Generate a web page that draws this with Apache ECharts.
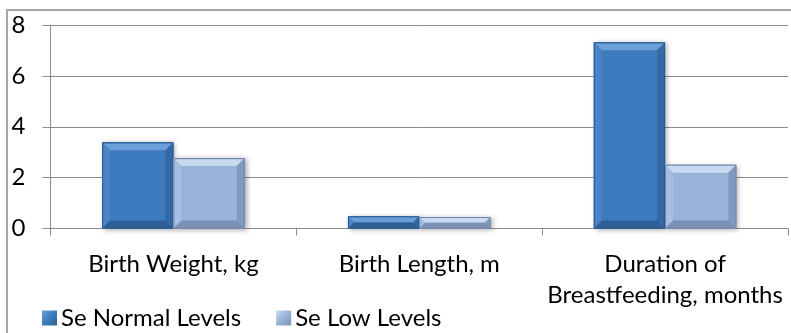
<!DOCTYPE html>
<html>
<head>
<meta charset="utf-8">
<script src="https://cdn.jsdelivr.net/npm/echarts@6/dist/echarts.min.js"></script>
<style>
  html, body { margin: 0; padding: 0; background: #ffffff; }
  #chart { width: 791px; height: 333px; }
</style>
</head>
<body>
<div id="chart"></div>
<script>
// Selenium status groups compared across three infant outcomes
const categories = ['Birth Weight, kg', 'Birth Length, m', 'Duration of\nBreastfeeding, months'];
const seNormal = [3.39, 0.48, 7.32];
const seLow = [2.77, 0.45, 2.51];
const yTicks = [0, 2, 4, 6, 8];
const seriesNames = ['Se Normal Levels', 'Se Low Levels'];

const FONT = 'Lato, "Open Sans", "Liberation Sans", sans-serif';
const FONT_SIZE = 24;

// Bevel shades for each group: face, top, left, right, bottom, outline
const palettes = [
  { face: '#3E7BBE', top: '#6A9FD8', left: '#4884C6', right: '#3469A6', bottom: '#2F5F96', edge: '#2C5A8C' },
  { face: '#97B3D8', top: '#C9DAF0', left: '#A6BFE0', right: '#8199BE', bottom: '#7A92B6', edge: '#7288AB' }
];

function bevelBar(pal, slot) {
  return function (params, api) {
    const idx = api.value(0);
    const val = api.value(1);
    const band = api.size([1, 0])[0];
    const w = band * 0.29;
    const base = api.coord([idx, 0]);
    const top = api.coord([idx, val]);
    const x0 = base[0] - w + slot * w;
    const x1 = x0 + w;
    const y0 = top[1];
    const y1 = base[1];
    const h = y1 - y0;
    const b = Math.min(8, h / 2, w / 2);
    const ix0 = x0 + b, ix1 = x1 - b, iy0 = y0 + b, iy1 = y1 - b;
    return {
      type: 'group',
      children: [
        { type: 'rect', shape: { x: x0, y: y0, width: w, height: h },
          style: { fill: pal.face, shadowBlur: 5, shadowOffsetX: 2, shadowOffsetY: 1, shadowColor: 'rgba(0,0,0,0.35)' } },
        { type: 'polygon', shape: { points: [[x0, y0], [x1, y0], [ix1, iy0], [ix0, iy0]] },
          style: { fill: { type: 'linear', x: 0, y: 0, x2: 0, y2: 1, colorStops: [
            { offset: 0, color: pal.face }, { offset: 0.25, color: pal.top }, { offset: 1, color: pal.top }] } } },
        { type: 'polygon', shape: { points: [[x0, y0], [ix0, iy0], [ix0, iy1], [x0, y1]] },
          style: { fill: pal.left } },
        { type: 'polygon', shape: { points: [[x1, y0], [x1, y1], [ix1, iy1], [ix1, iy0]] },
          style: { fill: pal.right } },
        { type: 'polygon', shape: { points: [[x0, y1], [ix0, iy1], [ix1, iy1], [x1, y1]] },
          style: { fill: pal.bottom } },
        { type: 'rect', shape: { x: x0 + 0.5, y: y0 + 0.5, width: w - 1, height: h - 1 },
          style: { fill: 'none', stroke: pal.edge, lineWidth: 1 } }
      ]
    };
  };
}

function legendFill(pal) {
  return { type: 'linear', x: 0, y: 0, x2: 1, y2: 1, colorStops: [
    { offset: 0, color: pal.top }, { offset: 0.5, color: pal.face }, { offset: 1, color: pal.bottom }] };
}

const chart = echarts.init(document.getElementById('chart'), null, { renderer: 'canvas' });

chart.setOption({
  animation: false,
  backgroundColor: '#ffffff',
  textStyle: { fontFamily: FONT, color: '#000000' },
  graphic: [{
    type: 'rect', silent: true, z: 100,
    shape: { x: 7, y: 10, width: 900, height: 400 },
    style: { fill: 'none', stroke: '#A6A6A6', lineWidth: 2 }
  }],
  grid: { left: 50.5, right: 3, top: 25, bottom: 104.5 },
  legend: {
    left: 37, top: 301,
    itemWidth: 15, itemHeight: 15, itemGap: 35,
    icon: 'rect',
    textStyle: { fontFamily: FONT, fontSize: FONT_SIZE, color: '#000000', padding: [0, 0, 0, -1] },
    data: seriesNames
  },
  xAxis: {
    type: 'category',
    data: categories,
    axisLine: { lineStyle: { color: '#8C8C8C', width: 1 } },
    axisTick: { show: true, length: 7, lineStyle: { color: '#8C8C8C' } },
    axisLabel: { fontFamily: FONT, fontSize: FONT_SIZE, color: '#000000', lineHeight: 31, margin: 20, interval: 0 }
  },
  yAxis: {
    type: 'value',
    min: yTicks[0], max: yTicks[yTicks.length - 1], interval: 2,
    axisLine: { show: true, lineStyle: { color: '#8C8C8C', width: 1 } },
    axisTick: { show: true, length: 8, lineStyle: { color: '#8C8C8C' } },
    splitLine: { lineStyle: { color: '#8C8C8C', width: 1 } },
    axisLabel: { fontFamily: FONT, fontSize: FONT_SIZE, color: '#000000', margin: 25 }
  },
  series: [
    {
      name: seriesNames[0], type: 'custom',
      itemStyle: { color: legendFill(palettes[0]) },
      renderItem: bevelBar(palettes[0], 0),
      encode: { x: 0, y: 1 },
      data: seNormal.map((v, i) => [i, v])
    },
    {
      name: seriesNames[1], type: 'custom',
      itemStyle: { color: legendFill(palettes[1]) },
      renderItem: bevelBar(palettes[1], 1),
      encode: { x: 0, y: 1 },
      data: seLow.map((v, i) => [i, v])
    }
  ]
});
</script>
</body>
</html>
